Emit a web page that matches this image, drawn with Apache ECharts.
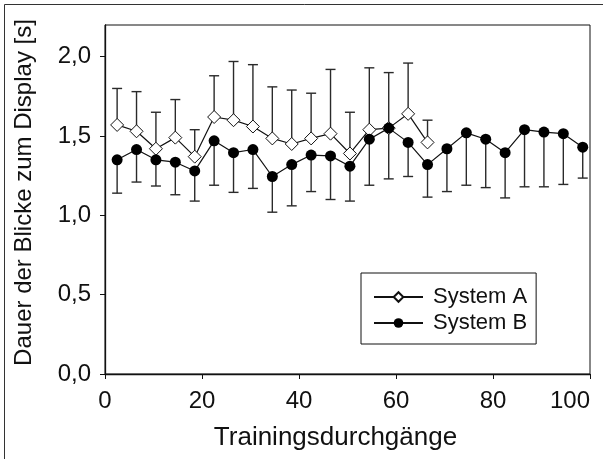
<!DOCTYPE html>
<html>
<head>
<meta charset="utf-8">
<script src="https://cdn.jsdelivr.net/npm/echarts@6/dist/echarts.min.js"></script>
<style>
  html, body { margin: 0; padding: 0; background: #fff; overflow: hidden; width: 603px; height: 459px; }
  #main { width: 603px; height: 459px; position: relative; }
</style>
</head>
<body>
<div id="main"></div>
<script>
// block centres (trial number)
const trialsA = [2.5, 6.5, 10.5, 14.5, 18.5, 22.5, 26.5, 30.5, 34.5, 38.5, 42.5, 46.5, 50.5, 54.5, 58.5, 62.5, 66.5];
const trialsB = [2.5, 6.5, 10.5, 14.5, 18.5, 22.5, 26.5, 30.5, 34.5, 38.5, 42.5, 46.5, 50.5, 54.5, 58.5, 62.5, 66.5,
  70.5, 74.5, 78.5, 82.5, 86.5, 90.5, 94.5, 98.5];

// System A: mean and upper end of error bar
const meanA = [1.57, 1.53, 1.42, 1.49, 1.37, 1.62, 1.60, 1.56, 1.485, 1.45, 1.485, 1.515, 1.39, 1.54, 1.55, 1.64, 1.46];
const upperA = [1.80, 1.78, 1.65, 1.73, 1.54, 1.88, 1.97, 1.95, 1.81, 1.79, 1.77, 1.92, 1.65, 1.93, 1.90, 1.96, 1.60];

// System B: mean and lower end of error bar
const meanB = [1.35, 1.415, 1.35, 1.335, 1.28, 1.47, 1.395, 1.415, 1.245, 1.32, 1.38, 1.375, 1.31, 1.48, 1.55, 1.46, 1.32,
  1.42, 1.52, 1.48, 1.395, 1.54, 1.525, 1.515, 1.43];
const lowerB = [1.14, 1.21, 1.185, 1.13, 1.09, 1.19, 1.145, 1.17, 1.02, 1.06, 1.15, 1.10, 1.09, 1.19, 1.23, 1.245, 1.115,
  1.15, 1.19, 1.175, 1.11, 1.18, 1.18, 1.195, 1.235];

const yTicks = [0, 0.5, 1.0, 1.5, 2.0];

const font = '"Liberation Sans", Arial, sans-serif';

const pairs = (xs, ys) => xs.map((x, i) => [x, ys[i]]);
const errData = (xs, ys, ends) => xs.map((x, i) => [x, ys[i], ends[i]]);

const renderErr = (params, api) => {
  const p0 = api.coord([api.value(0), api.value(1)]);
  const p1 = api.coord([api.value(0), api.value(2)]);
  const cap = 5;
  const style = { stroke: '#2a2a2a', lineWidth: 1.4 };
  return {
    type: 'group',
    children: [
      { type: 'line', shape: { x1: p0[0], y1: p0[1], x2: p1[0], y2: p1[1] }, style: style },
      { type: 'line', shape: { x1: p1[0] - cap, y1: p1[1], x2: p1[0] + cap, y2: p1[1] }, style: style }
    ]
  };
};

const myChart = echarts.init(document.getElementById('main'));

const option = {
  animation: false,
  textStyle: { fontFamily: font },
  // outer frame of the figure (only top and left edges fall inside the picture)
  graphic: [
    { type: 'polyline', silent: true, shape: { points: [[4.5, 470], [4.5, 4.5], [620, 4.5]] },
      style: { stroke: '#333', lineWidth: 1, fill: null } }
  ],
  grid: {
    left: 105, right: 13, top: 25, bottom: 85,
    outerBoundsMode: 'none',
    show: true, borderColor: '#111', borderWidth: 1
  },
  legend: {
    orient: 'vertical',
    left: 361, top: 273,
    padding: [13, 9, 10, 12],
    borderColor: '#111', borderWidth: 1,
    itemWidth: 49, itemHeight: 12, itemGap: 4,
    textStyle: { fontSize: 22, color: '#111', fontFamily: font, padding: [0, 0, 0, 5] },
    data: ['System A', 'System B']
  },
  xAxis: {
    type: 'value', min: 0, max: 100, interval: 20,
    name: 'Trainingsdurchgänge', nameLocation: 'middle', nameGap: 51,
    nameTextStyle: { fontSize: 26, color: '#111', fontFamily: font, padding: [0, 24, 0, 0] },
    axisLine: { lineStyle: { color: '#111', width: 1.3 } },
    axisTick: { length: 5, lineStyle: { color: '#111' } },
    axisLabel: { fontSize: 24, color: '#111', margin: 15, alignMaxLabel: 'right' },
    splitLine: { show: false }
  },
  yAxis: {
    type: 'value', min: 0, max: 2.2,
    name: 'Dauer der Blicke zum Display [s]', nameLocation: 'middle', nameGap: 69,
    nameTextStyle: { fontSize: 24, color: '#111', fontFamily: font, padding: [0, 0, 0, 14] },
    axisLine: { show: true, lineStyle: { color: '#111', width: 1.3 } },
    axisTick: { show: true, length: 5, customValues: yTicks, lineStyle: { color: '#111' } },
    axisLabel: {
      fontSize: 24, color: '#111', margin: 14, customValues: yTicks,
      formatter: (v) => v.toFixed(1).replace('.', ',')
    },
    splitLine: { show: false }
  },
  series: [
    {
      name: 'errA', type: 'custom', z: 1, renderItem: renderErr,
      data: errData(trialsA, meanA, upperA), silent: true
    },
    {
      name: 'errB', type: 'custom', z: 1, renderItem: renderErr,
      data: errData(trialsB, meanB, lowerB), silent: true
    },
    {
      name: 'System A', type: 'line', z: 3,
      data: pairs(trialsA, meanA),
      symbol: 'diamond', symbolSize: 13, showAllSymbol: true,
      lineStyle: { color: '#111', width: 1.2 },
      itemStyle: { color: '#fff', borderColor: '#111', borderWidth: 1 }
    },
    {
      name: 'System B', type: 'line', z: 4,
      data: pairs(trialsB, meanB),
      symbol: 'circle', symbolSize: 11, showAllSymbol: true,
      lineStyle: { color: '#111', width: 1.2 },
      itemStyle: { color: '#000', borderColor: '#000', borderWidth: 0 }
    }
  ]
};

myChart.setOption(option);
</script>
</body>
</html>
